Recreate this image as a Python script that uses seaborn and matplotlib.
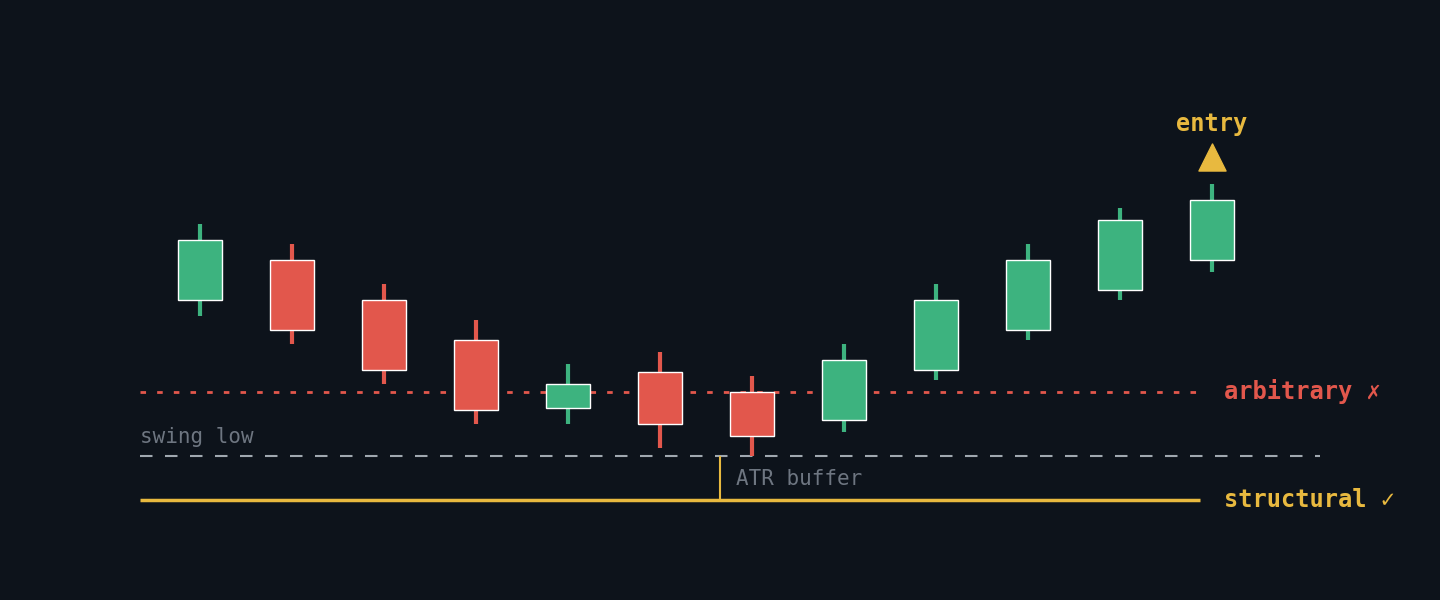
import pandas as pd
import seaborn as sns
import matplotlib.pyplot as plt

# candle data (price axis inverted so lower value = higher on screen)
x_pos = [200, 292, 384, 476, 568, 660, 752, 844, 936, 1028, 1120, 1212]
opens = [300, 260, 300, 340, 408, 372, 392, 420, 370, 330, 290, 260]
closes = [240, 330, 370, 410, 384, 424, 436, 360, 300, 260, 220, 200]
highs = [224, 244, 284, 320, 364, 352, 376, 344, 284, 244, 208, 184]
lows = [316, 344, 384, 424, 424, 448, 456, 432, 380, 340, 300, 272]

arbitrary_level = 392
swing_low = 456
structural_level = 500
atr_x = 720

BG = '#0d131b'
GREEN = '#3db37f'
RED = '#e2574c'
YELLOW = '#e8b93f'
GRAY = '#6e7681'

df = pd.DataFrame({'x': x_pos, 'open': opens, 'close': closes, 'high': highs, 'low': lows})
df['up'] = df['close'] < df['open']

sns.set_style('dark', {'axes.facecolor': BG, 'figure.facecolor': BG})
plt.rcParams['font.family'] = ['DejaVu Sans Mono', 'DejaVu Sans']

fig = plt.figure(figsize=(14.4, 6), dpi=100)
ax = fig.add_axes([0, 0, 1, 1])
ax.set_xlim(0, 1440)
ax.set_ylim(600, 0)
ax.axis('off')

for _, r in df.iterrows():
    c = GREEN if r['up'] else RED
    ax.vlines(r['x'], r['high'], r['low'], color=c, lw=3, zorder=2)
    top = min(r['open'], r['close'])
    ax.bar(r['x'], abs(r['open'] - r['close']), bottom=top, width=44, color=c, zorder=3)

ax.hlines(arbitrary_level, 140, 1200, color=RED, lw=2, linestyles=(0, (2, 4)), zorder=1)
ax.hlines(swing_low, 140, 1320, color='#a0a8b0', lw=1.5, linestyles=(0, (6, 6)), zorder=1)
ax.hlines(structural_level, 140, 1200, color=YELLOW, lw=2.5, zorder=1)
ax.vlines(atr_x, swing_low, structural_level, color=YELLOW, lw=1.5, zorder=1)

ax.text(1224, arbitrary_level, 'arbitrary ✗', color=RED, fontsize=17, fontweight='bold', va='center')
ax.text(1224, structural_level, 'structural ✓', color=YELLOW, fontsize=17, fontweight='bold', va='center')
ax.text(140, 437, 'swing low', color=GRAY, fontsize=15, va='center')
ax.text(736, 479, 'ATR buffer', color=GRAY, fontsize=15, va='center')
ax.text(1212, 124, 'entry', color=YELLOW, fontsize=17, fontweight='bold', ha='center', va='center')
ax.scatter([1212], [157], marker='^', s=380, color=YELLOW, zorder=4)

fig.savefig('out.png', dpi=100, facecolor=BG)
